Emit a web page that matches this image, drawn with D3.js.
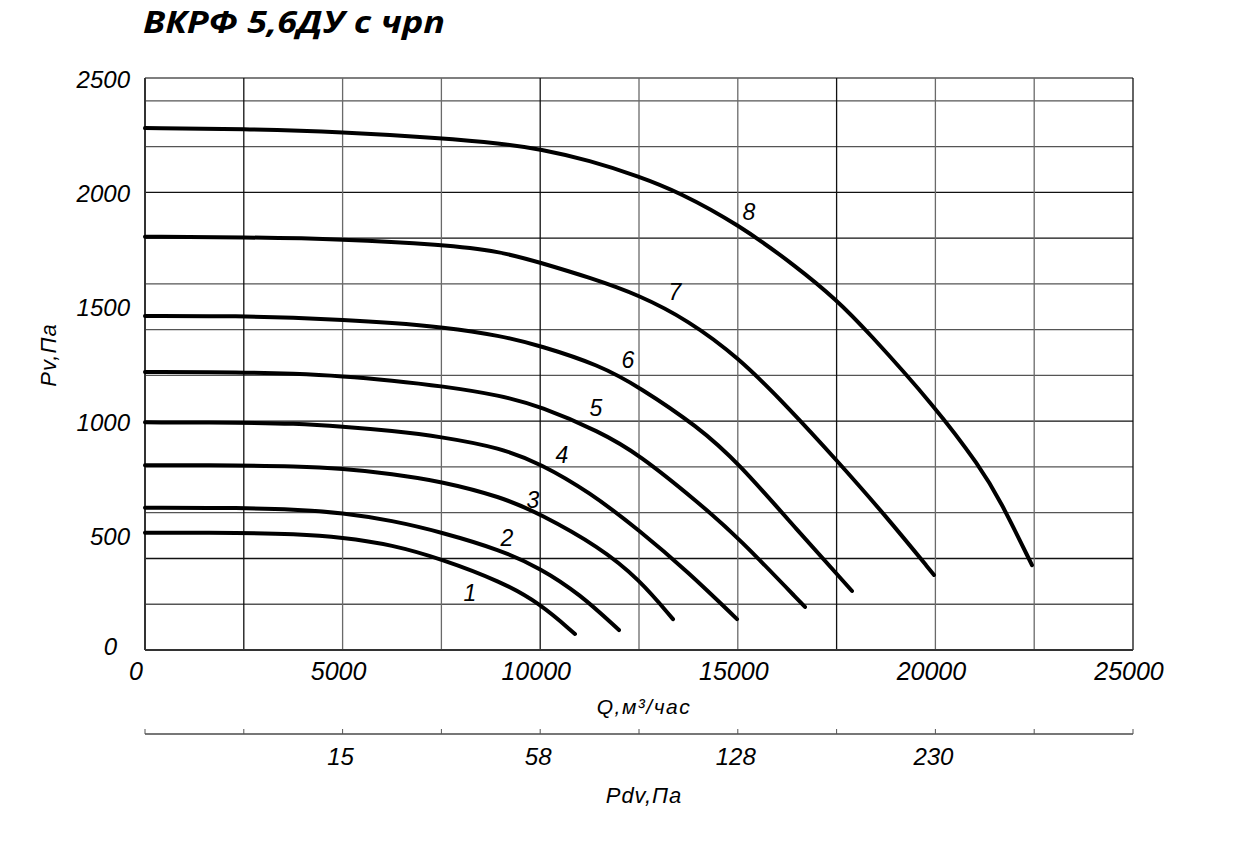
<!DOCTYPE html>
<html>
<head>
<meta charset="utf-8">
<script src="https://cdn.jsdelivr.net/npm/d3@7"></script>
<style>
  html, body { margin: 0; padding: 0; background: #fff; }
  svg { display: block; }
  text { font-family: "Liberation Sans", Arial, sans-serif; font-style: italic; fill: #000; }
</style>
</head>
<body>
<svg id="chart" width="1259" height="841"></svg>
<script>
// ---- Data ----
const title = "ВКРФ 5,6ДУ с чрп";
const xLabel = "Q,м³/час";
const yLabel = "Pv,Па";
const pdvLabel = "Pdv,Па";

const xTicks = [0, 5000, 10000, 15000, 20000, 25000];
const yTicks = [0, 500, 1000, 1500, 2000, 2500];
const xGrid = [0, 2500, 5000, 7500, 10000, 12500, 15000, 17500, 20000, 22500, 25000];
const yGrid = [0, 200, 400, 600, 800, 1000, 1200, 1400, 1600, 1800, 2000, 2200, 2400, 2500];

const pdvTickQ = [0, 2500, 5000, 7500, 10000, 12500, 15000, 17500, 20000, 22500, 25000];
const pdvLabelQ = [5000, 10000, 15000, 20000];
const pdvLabelText = ["15", "58", "128", "230"];

// Curves: [Q, Pv]
const curve1 = [[0,513],[2500,512],[3750,507],[5000,493],[6250,460],[7500,398],[9000,300],[10000,203],[10880,70]];
const curve2 = [[0,622],[2500,621],[3750,615],[5000,600],[6250,566],[7500,515],[9000,437],[10000,358],[11000,245],[11994,87]];
const curve3 = [[0,808],[2500,807],[3750,803],[5000,793],[6250,770],[7500,737],[9000,670],[10000,595],[11500,450],[12500,310],[13360,135]];
const curve4 = [[0,995],[2500,994],[3750,990],[5000,977],[6250,958],[7500,932],[9000,883],[10000,815],[11250,690],[12500,524],[13750,340],[14980,135]];
const curve5 = [[0,1215],[2500,1214],[3750,1208],[5000,1197],[6250,1178],[7500,1154],[9000,1113],[10000,1065],[11500,955],[12500,855],[14000,645],[15000,494],[16700,188]];
const curve6 = [[0,1460],[2500,1459],[3750,1453],[5000,1443],[6250,1430],[7500,1412],[9000,1374],[10000,1330],[11500,1245],[12500,1150],[14000,975],[15000,820],[16500,525],[17890,258]];
const curve7 = [[0,1806],[2500,1804],[5000,1796],[7500,1772],[9000,1742],[10000,1693],[11250,1628],[12500,1552],[13750,1440],[15000,1281],[16250,1065],[17500,830],[18750,585],[19965,328]];
const curve8 = [[0,2281],[2500,2277],[5000,2264],[7500,2237],[9000,2214],[10000,2190],[11250,2140],[12500,2070],[13500,2002],[15000,1862],[16500,1674],[17500,1530],[18250,1399],[20000,1062],[21130,800],[21635,656],[22444,371]];
const curves = [curve1, curve2, curve3, curve4, curve5, curve6, curve7, curve8];

const curveNames = ["1","2","3","4","5","6","7","8"];
const curveLabelQ = [8224, 9160, 9817, 10551, 11412, 12222, 13411, 15283];
const curveLabelPv = [249, 490, 656, 852, 1057, 1267, 1565, 1914];

// ---- Layout ----
const svg = d3.select("#chart");
const mLeft = 145, mRight = 1133, mTop = 78, mBottom = 650;

const x = d3.scaleLinear().domain([0, 25000]).range([mLeft, mRight]);
const y = d3.scaleLinear().domain([0, 2500]).range([mBottom, mTop]);

// Title
svg.append("text")
  .attr("x", 143).attr("y", 33)
  .style("font-family", "'Open Sans', 'Noto Sans', sans-serif")
  .style("font-weight", "bold")
  .style("font-size", "31px")
  .attr("textLength", 302)
  .attr("lengthAdjust", "spacingAndGlyphs")
  .text(title);

// Grid
const g = svg.append("g");
g.selectAll("line.h").data(yGrid).enter().append("line")
  .attr("x1", mLeft).attr("x2", mRight)
  .attr("y1", d => y(d)).attr("y2", d => y(d))
  .attr("stroke", d => (d % 1000 === 0 || d === 400 || d === 1800) ? "#111" : "#555")
  .attr("stroke-width", 1.3);
g.selectAll("line.v").data(xGrid).enter().append("line")
  .attr("y1", mTop).attr("y2", mBottom)
  .attr("x1", d => x(d)).attr("x2", d => x(d))
  .attr("stroke", d => (d === 10000 || d === 17500 || d === 2500 || d === 25000 || d === 0) ? "#111" : "#6a6a6a")
  .attr("stroke-width", 1.3);

// Axis lines (bottom + left)
svg.append("line").attr("x1", mLeft).attr("x2", mRight).attr("y1", mBottom).attr("y2", mBottom)
  .attr("stroke", "#333").attr("stroke-width", 2);
svg.append("line").attr("x1", mLeft).attr("x2", mLeft).attr("y1", mTop).attr("y2", mBottom)
  .attr("stroke", "#333").attr("stroke-width", 2);

// X tick labels
svg.selectAll("text.xt").data(xTicks).enter().append("text")
  .attr("x", d => x(d) - (d === 0 ? 9 : 4))
  .attr("y", 680)
  .attr("text-anchor", "middle")
  .style("font-size", "25px")
  .text(d => d);

// Y tick labels
svg.selectAll("text.yt").data(yTicks).enter().append("text")
  .attr("x", d => d === 0 ? 117 : 130)
  .attr("y", d => y(d) + (d === 0 ? -4 : 1))
  .attr("text-anchor", "end")
  .attr("dominant-baseline", "central")
  .style("font-size", "24px")
  .text(d => d);

// Axis titles
svg.append("text")
  .attr("x", 644).attr("y", 714)
  .attr("text-anchor", "middle")
  .style("font-size", "21px")
  .style("letter-spacing", "1.5px")
  .text(xLabel);

svg.append("text")
  .attr("transform", "translate(56,355) rotate(-90)")
  .attr("text-anchor", "middle")
  .style("font-size", "22px")
  .style("letter-spacing", "1px")
  .text(yLabel);

// Secondary Pdv axis
const pdvY = 734;
svg.append("line").attr("x1", mLeft).attr("x2", mRight).attr("y1", pdvY).attr("y2", pdvY)
  .attr("stroke", "#777").attr("stroke-width", 2.2);
svg.selectAll("line.pt").data(pdvTickQ).enter().append("line")
  .attr("x1", d => x(d)).attr("x2", d => x(d))
  .attr("y1", pdvY - 5).attr("y2", pdvY)
  .attr("stroke", "#555").attr("stroke-width", 1);
svg.selectAll("text.pl").data(pdvLabelQ).enter().append("text")
  .attr("x", d => x(d) - 2)
  .attr("y", 765)
  .attr("text-anchor", "middle")
  .style("font-size", "24px")
  .text((d, i) => pdvLabelText[i]);
svg.append("text")
  .attr("x", 644).attr("y", 803)
  .attr("text-anchor", "middle")
  .style("font-size", "22px")
  .style("letter-spacing", "1px")
  .text(pdvLabel);

// Curves
const line = d3.line().x(d => x(d[0])).y(d => y(d[1])).curve(d3.curveBasis);
svg.selectAll("path.curve").data(curves).enter().append("path")
  .attr("d", line)
  .attr("fill", "none")
  .attr("stroke", "#000")
  .attr("stroke-width", 4)
  .attr("stroke-linecap", "round")
  .attr("stroke-linejoin", "round");

// Curve labels
svg.selectAll("text.cl").data(curveNames).enter().append("text")
  .attr("x", (d, i) => x(curveLabelQ[i]))
  .attr("y", (d, i) => y(curveLabelPv[i]))
  .attr("text-anchor", "middle")
  .attr("dominant-baseline", "central")
  .style("font-size", "23px")
  .text(d => d);
</script>
</body>
</html>
